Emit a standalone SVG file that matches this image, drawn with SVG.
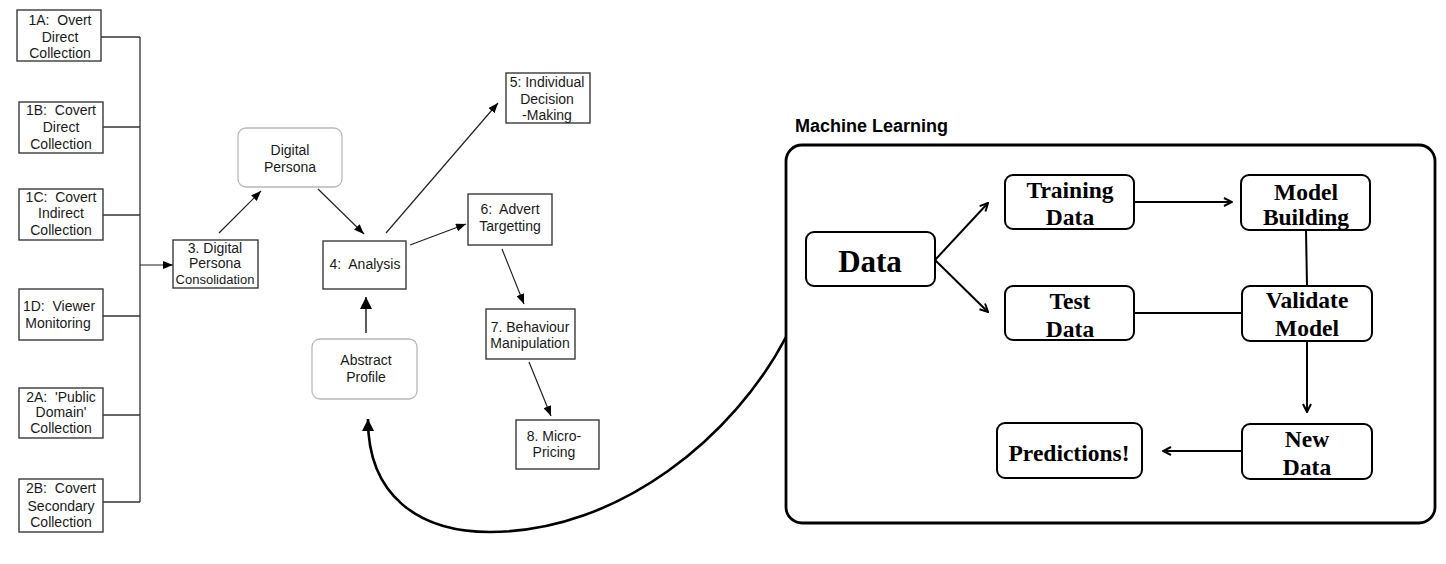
<svg xmlns="http://www.w3.org/2000/svg" width="1446" height="564" viewBox="0 0 1446 564">
<defs>
<style>
.bx{fill:#fff;stroke:#3a3a3a;stroke-width:1.4}
.rb{fill:#fff;stroke:#b8b8b8;stroke-width:1.3}
.t{font-family:"Liberation Sans",Arial,sans-serif;font-size:14px;fill:#1a1a1a;text-anchor:middle}
.ln{fill:none;stroke:#333;stroke-width:1.3}
.ar{fill:none;stroke:#222;stroke-width:1.2}
.mb{fill:#fff;stroke:#000;stroke-width:2}
.mt{font-family:"Liberation Serif","Times New Roman",serif;font-weight:bold;font-size:23.5px;fill:#000;text-anchor:middle}
.ml{fill:none;stroke:#000;stroke-width:2}
</style>
<marker id="fa" viewBox="0 0 10 8" refX="10" refY="4" markerWidth="10" markerHeight="8" markerUnits="userSpaceOnUse" orient="auto"><path d="M0,0 L10,4 L0,8 z" fill="#000"/></marker>
<marker id="fb" viewBox="0 0 12 12" refX="12" refY="6" markerWidth="13" markerHeight="12" markerUnits="userSpaceOnUse" orient="auto"><path d="M0,0 L12,6 L0,12 z" fill="#000"/></marker>
<marker id="oa" viewBox="0 0 10 10" refX="9" refY="5" markerWidth="10" markerHeight="10" markerUnits="userSpaceOnUse" orient="auto"><path d="M1,1 L9,5 L1,9" fill="none" stroke="#000" stroke-width="2"/></marker>
</defs>
<rect width="1446" height="564" fill="#fff"/>

<g id="connectors">
<path class="ln" d="M140,37 V502 M101,37 H140 M103,127 H140 M103,215 H140 M103,316 H140 M103,415 H140 M103,502 H140"/>
<path class="ar" d="M140,265 H173" marker-end="url(#fa)"/>
<path class="ar" d="M219,233 L261,191" marker-end="url(#fa)"/>
<path class="ar" d="M318,189 L364,234" marker-end="url(#fa)"/>
<path class="ar" d="M386,233 L498,103" marker-end="url(#fa)"/>
<path class="ar" d="M410,245 L466,224" marker-end="url(#fa)"/>
<path class="ar" d="M502,249 L524,304" marker-end="url(#fa)"/>
<path class="ar" d="M529,362 L551,416" marker-end="url(#fa)"/>
<path fill="none" stroke="#333" stroke-width="1.6" d="M366,333 L366,297" marker-end="url(#fb)"/>
<path fill="none" stroke="#000" stroke-width="2.6" d="M786,337 C735,435 620,532 490,532 C418,532 368,495 368,420 L368,419" marker-end="url(#fb)"/>
<path class="ml" d="M935,260 L988,203" marker-end="url(#oa)"/>
<path class="ml" d="M935,260 L988,312" marker-end="url(#oa)"/>
<path class="ml" d="M1134,202 L1232,202" marker-end="url(#oa)"/>
<path class="ml" d="M1306,230 L1307,286"/>
<path class="ml" d="M1134,313 L1242,313"/>
<path class="ml" d="M1307,341 L1307,412" marker-end="url(#oa)"/>
<path class="ml" d="M1242,451 L1163,451" marker-end="url(#oa)"/>
</g>

<g id="n1A"><rect class="bx" x="17" y="10" width="84" height="51"/><text class="t" x="60" y="25">1A:&#160; Overt</text><text class="t" x="60" y="42">Direct</text><text class="t" x="60" y="58">Collection</text></g>
<g id="n1B"><rect class="bx" x="19" y="102" width="84" height="51"/><text class="t" x="61" y="115">1B:&#160; Covert</text><text class="t" x="61" y="132">Direct</text><text class="t" x="61" y="149">Collection</text></g>
<g id="n1C"><rect class="bx" x="19" y="189" width="84" height="51"/><text class="t" x="61" y="202">1C:&#160; Covert</text><text class="t" x="61" y="218">Indirect</text><text class="t" x="61" y="235">Collection</text></g>
<g id="n1D"><rect class="bx" x="19" y="289" width="84" height="51"/><text class="t" x="59" y="311">1D:&#160; Viewer</text><text class="t" x="58" y="328">Monitoring</text></g>
<g id="n2A"><rect class="bx" x="19" y="388" width="84" height="50"/><text class="t" x="61" y="402">2A:&#160; 'Public</text><text class="t" x="61" y="417">Domain'</text><text class="t" x="61" y="433">Collection</text></g>
<g id="n2B"><rect class="bx" x="19" y="479" width="84" height="53"/><text class="t" x="61" y="493">2B:&#160; Covert</text><text class="t" x="61" y="511">Secondary</text><text class="t" x="61" y="527">Collection</text></g>
<g id="n3"><rect class="bx" x="173" y="240" width="85" height="48"/><text class="t" x="215" y="253">3. Digital</text><text class="t" x="215" y="268">Persona</text><text class="t" x="215" y="284" style="font-size:13px">Consolidation</text></g>
<g id="nDP"><rect class="rb" x="238" y="128" width="104" height="59" rx="8"/><text class="t" x="290" y="155">Digital</text><text class="t" x="290" y="172">Persona</text></g>
<g id="n4"><rect class="bx" x="323" y="241" width="83" height="48"/><text class="t" x="365" y="269">4:&#160; Analysis</text></g>
<g id="n5"><rect class="bx" x="506" y="73" width="84" height="50"/><text class="t" x="547" y="87">5: Individual</text><text class="t" x="547" y="104">Decision</text><text class="t" x="547" y="120">-Making</text></g>
<g id="n6"><rect class="bx" x="468" y="194" width="84" height="51"/><text class="t" x="510" y="214">6:&#160; Advert</text><text class="t" x="510" y="231">Targetting</text></g>
<g id="n7"><rect class="bx" x="486" y="309" width="89" height="50"/><text class="t" x="530" y="332">7. Behaviour</text><text class="t" x="530" y="348">Manipulation</text></g>
<g id="n8"><rect class="bx" x="516" y="420" width="83" height="49"/><text class="t" x="554" y="441">8. Micro-</text><text class="t" x="554" y="457">Pricing</text></g>
<g id="nAP"><rect class="rb" x="312" y="339" width="105" height="60" rx="8"/><text class="t" x="366" y="365">Abstract</text><text class="t" x="366" y="382">Profile</text></g>

<g id="ml">
<text x="795" y="132" style="font-family:'Liberation Sans',Arial,sans-serif;font-weight:bold;font-size:18px;fill:#000">Machine Learning</text>
<rect x="786" y="145" width="649" height="378" rx="16" fill="none" stroke="#000" stroke-width="2.8"/>
</g>
<g id="mData"><rect class="mb" x="806" y="232" width="129" height="54" rx="8"/><text class="mt" x="870" y="272" style="font-size:31px">Data</text></g>
<g id="mTrain"><rect class="mb" x="1005" y="175" width="129" height="54" rx="8"/><text class="mt" x="1070" y="198">Training</text><text class="mt" x="1070" y="225">Data</text></g>
<g id="mTest"><rect class="mb" x="1005" y="286" width="129" height="54" rx="8"/><text class="mt" x="1070" y="309">Test</text><text class="mt" x="1070" y="337">Data</text></g>
<g id="mModel"><rect class="mb" x="1241" y="175" width="129" height="55" rx="8"/><text class="mt" x="1306" y="200">Model</text><text class="mt" x="1306" y="225">Building</text></g>
<g id="mValid"><rect class="mb" x="1242" y="286" width="130" height="55" rx="8"/><text class="mt" x="1307" y="308">Validate</text><text class="mt" x="1307" y="336">Model</text></g>
<g id="mPred"><rect class="mb" x="997" y="423" width="145" height="55" rx="8"/><text class="mt" x="1069" y="461">Predictions!</text></g>
<g id="mNew"><rect class="mb" x="1242" y="424" width="130" height="55" rx="8"/><text class="mt" x="1307" y="447">New</text><text class="mt" x="1307" y="475">Data</text></g>
</svg>
